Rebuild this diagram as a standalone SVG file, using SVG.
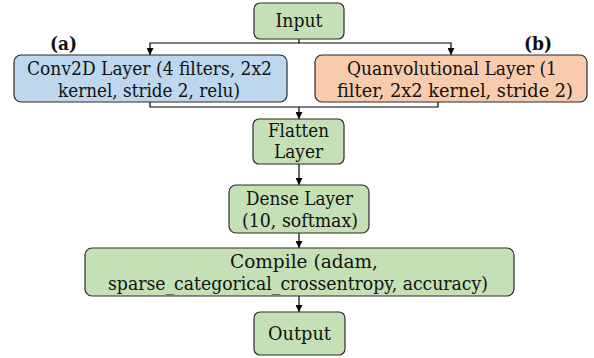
<svg xmlns="http://www.w3.org/2000/svg" width="594" height="358" viewBox="0 0 594 358">
<defs>
<marker id="ah" viewBox="0 0 10 10" refX="10" refY="5" markerWidth="7" markerHeight="7" orient="auto" markerUnits="userSpaceOnUse">
<path d="M0,0 L10,5 L0,10 z" fill="#000"/>
</marker>
<style>
.box{stroke:#2b2b2b;stroke-width:1.2}
.g{fill:#c5e0b4}
.b{fill:#bdd7ee}
.o{fill:#f8cbad}
.t{font-family:'DejaVu Serif','Liberation Serif',serif;font-size:18px;fill:#111;text-anchor:middle}
.lbl{font-weight:bold;font-size:19px}
.c{fill:none;stroke:#000;stroke-width:1.2}
</style>
</defs>
<rect width="594" height="358" fill="#fff"/>
<g id="connectors">
<path class="c" d="M299,39 V43 H150 V55" marker-end="url(#ah)"/>
<path class="c" d="M299,43 H451 V55" marker-end="url(#ah)"/>
<path class="c" d="M150,102 V107 H438 V102"/>
<path class="c" d="M299,107 V119" marker-end="url(#ah)"/>
<path class="c" d="M299,164 V185" marker-end="url(#ah)"/>
<path class="c" d="M299,233 V248" marker-end="url(#ah)"/>
<path class="c" d="M299,296 V312" marker-end="url(#ah)"/>
</g>
<g id="input">
<rect class="box g" x="254" y="3" width="90" height="36" rx="6"/>
<text class="t" font-family="DejaVu Serif, serif" x="299" y="27" textLength="47" lengthAdjust="spacingAndGlyphs">Input</text>
</g>
<g id="label-a"><text class="t lbl" font-family="DejaVu Serif, serif" x="63.5" y="50" textLength="27" lengthAdjust="spacingAndGlyphs">(a)</text></g>
<g id="label-b"><text class="t lbl" font-family="DejaVu Serif, serif" x="538" y="50" textLength="28" lengthAdjust="spacingAndGlyphs">(b)</text></g>
<g id="conv2d">
<rect class="box b" x="14" y="55" width="273" height="47" rx="7"/>
<text class="t" font-family="DejaVu Serif, serif" x="149.5" y="75" textLength="245" lengthAdjust="spacingAndGlyphs">Conv2D Layer (4 filters, 2x2</text>
<text class="t" font-family="DejaVu Serif, serif" x="149" y="97" textLength="182" lengthAdjust="spacingAndGlyphs">kernel, stride 2, relu)</text>
</g>
<g id="quanv">
<rect class="box o" x="315" y="55" width="272" height="47" rx="7"/>
<text class="t" font-family="DejaVu Serif, serif" x="452" y="75" textLength="210" lengthAdjust="spacingAndGlyphs">Quanvolutional Layer (1</text>
<text class="t" font-family="DejaVu Serif, serif" x="455" y="97" textLength="236" lengthAdjust="spacingAndGlyphs">filter, 2x2 kernel, stride 2)</text>
</g>
<g id="flatten">
<rect class="box g" x="253" y="119" width="91" height="45" rx="6"/>
<text class="t" font-family="DejaVu Serif, serif" x="298.5" y="137" textLength="61" lengthAdjust="spacingAndGlyphs">Flatten</text>
<text class="t" font-family="DejaVu Serif, serif" x="298.5" y="158" textLength="49" lengthAdjust="spacingAndGlyphs">Layer</text>
</g>
<g id="dense">
<rect class="box g" x="229" y="185" width="140" height="48" rx="7"/>
<text class="t" font-family="DejaVu Serif, serif" x="299.5" y="205" textLength="107" lengthAdjust="spacingAndGlyphs">Dense Layer</text>
<text class="t" font-family="DejaVu Serif, serif" x="300" y="227" textLength="116" lengthAdjust="spacingAndGlyphs">(10, softmax)</text>
</g>
<g id="compile">
<rect class="box g" x="85" y="248" width="429" height="48" rx="7"/>
<text class="t" font-family="DejaVu Serif, serif" x="304" y="268" textLength="148" lengthAdjust="spacingAndGlyphs">Compile (adam,</text>
<text class="t" font-family="DejaVu Serif, serif" x="298" y="290" textLength="380" lengthAdjust="spacingAndGlyphs">sparse_categorical_crossentropy, accuracy)</text>
</g>
<g id="output">
<rect class="box g" x="254" y="312" width="91" height="43" rx="6"/>
<text class="t" font-family="DejaVu Serif, serif" x="299.5" y="340" textLength="63" lengthAdjust="spacingAndGlyphs">Output</text>
</g>
</svg>
